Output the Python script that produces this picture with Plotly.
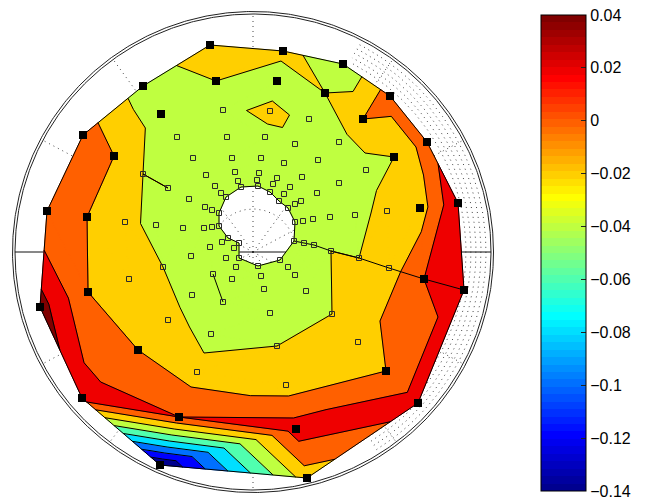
import math
import numpy as np
import plotly.graph_objects as go

# ---------------- data (polar plane, outer radius = 238 units) ----------------
# outer ring sensors (filled black squares)
black_x = [-43, 30, 90, 137, 174, 205, 211, 165, 54, -93, -171, -213, -206, -170, -110,
           -37, 24, 72, 110, 141, 167, 171, 133, 43, -74, -115, -165, -166, -139, -92]
black_y = [207, 201, 188, 156, 110, 49, -38, -151, -226, -213, -146, -55, 41, 117, 166,
           171, 171, 159, 133, 95, 44, -27, -119, -177, -165, -98, -40, 35, 96, 138]
black_v = [-0.01, -0.01, -0.04, 0.01, 0.01, 0.038, 0.03, 0.03, -0.01, -0.14, 0.03, 0.049, 0.0, 0.01, -0.03,
           -0.02, -0.04, -0.02, 0.0, -0.02, -0.01, 0.02, 0.0, 0.03, 0.02, 0.0, 0.0, 0.0, 0.0, -0.03]

# inner sensors (open squares)
int_x = [-30, 17, 56, -76, -26, 12, 42, 86, -60, -21, 8, 31, 65, -110, -47, -18, 6, 24, 49, 113,
         -85, -38, -15, 4, 20, 37, 86, -64, -32, 31, 64, 48, 42, -48, -41, 50, 60, 77, 102, 134,
         -128, -97, -70, -49, -41, -31, -19, -43, 51, 61, 78, 106, -27, -62, -90, -17, 35, 136, -40, 8,
         42, -124, -21, 11, 53, -61, -30, 17, 79, -85, -42, 24, 105, -56, 33]
int_y = [142, 141, 133, 115, 115, 115, 108, 110, 94, 94, 94, 89, 92, 78, 77, 80, 79, 74, 75, 82,
         64, 66, 71, 72, 68, 65, 69, 53, 59, 58, 59, 51, 48, 45, 42, 31, 33, 35, 37, 41,
         30, 27, 24, 24, 25, 10, 4, 5, 9, 7, 1, -6, -6, -4, -15, -15, -15, -16, -22, -24,
         -23, -27, -27, -37, -39, -43, -50, -61, -62, -68, -82, -94, -90, -120, -133]
int_v = [-0.03, -0.01, -0.03, -0.03, -0.03, -0.03, -0.03, -0.03, -0.03, -0.03,
         -0.03, -0.03, -0.03, -0.02, -0.03, -0.03, -0.03, -0.03, -0.03, -0.03,
         -0.02, -0.03, -0.03, -0.03, -0.03, -0.03, -0.03, -0.03, -0.03, -0.03,
         -0.03, -0.03, -0.03, -0.03, -0.03, -0.03, -0.03, -0.03, -0.03, -0.01,
         -0.01, -0.03, -0.03, -0.03, -0.03, -0.03, -0.03, -0.03, -0.03, -0.03,
         -0.02, -0.02, -0.03, -0.03, -0.02, -0.03, -0.03, -0.01, -0.03, -0.03,
         -0.03, -0.01, -0.03, -0.03, -0.03, -0.03, -0.03, -0.03, -0.02, -0.01,
         -0.03, -0.02, -0.01, -0.01, -0.01]

# sensors on the rim of the central opening (open squares)
hole_x = [-12, 5, 17, 26, 35, 42, 41, 27, 5, -14, -14, -25, -34, -34, -27]
hole_y = [65, 66, 60, 51, 44, 30, 11, -8, -14, -6, 9, 14, 26, 39, 55]
hole_v = [-0.03] * 15

# connection lines
cable_x = [41, 51, 61, 78, 106, 136, 171, 211]
cable_y = [11, 9, 7, 1, -6, -16, -27, -38]
link_x = [-40, -30]
link_y = [-22, -50]

levels = [-0.14, -0.12, -0.10, -0.08, -0.06, -0.04, -0.02, 0.0, 0.02, 0.04]
cbar_ticks = [0.04, 0.02, 0.0, -0.02, -0.04, -0.06, -0.08, -0.10, -0.12, -0.14]
cbar_labels = ['0.04', '0.02', '0', '\u22120.02', '\u22120.04', '\u22120.06', '\u22120.08',
               '\u22120.1', '\u22120.12', '\u22120.14']
CMIN, CMAX = -0.14, 0.04

# polar grid
R_OUT = 238
spoke_angles = [28, 54, 90, 126, 152, 208, 233, 270, 307, 332]
arc_radii = [213, 218, 223, 228, 233]

# page geometry (the page body adds an 8px margin)
PAGE_PAD = 8
FIG_W, FIG_H = 647 - PAGE_PAD, 499 - PAGE_PAD
CB_LEFT, CB_TOP, CB_LEN, CB_THICK = 541, 15, 476, 45


# ---------------- helpers ----------------
def jet(m=64):
    n = int(math.ceil(m / 4))
    u = [k / n for k in range(1, n + 1)] + [1.0] * (n - 1) + [k / n for k in range(n, 0, -1)]
    g0 = int(math.ceil(n / 2)) - (1 if m % 4 == 1 else 0)
    cols = [[0.0, 0.0, 0.0] for _ in range(m)]
    for j, val in enumerate(u):
        gi = g0 + j + 1
        for idx, ch in ((gi + n, 0), (gi, 1), (gi - n, 2)):
            if 1 <= idx <= m:
                cols[idx - 1][ch] = val
    return ['rgb(%d,%d,%d)' % tuple(int(round(c * 255)) for c in col) for col in cols]


JET = jet(64)


def level_color(v):
    idx = int(math.floor((v - CMIN) / (CMAX - CMIN) * 64 + 1e-9))
    return JET[max(0, min(63, idx))]


def delaunay(pts):
    n = len(pts)
    P = [(float(a), float(b)) for a, b in pts]
    S = 3e4
    P += [(-S, -S), (S, -S), (0.0, S)]

    def cc(t):
        (ax, ay), (bx, by), (cx, cy) = P[t[0]], P[t[1]], P[t[2]]
        d = 2.0 * (ax * (by - cy) + bx * (cy - ay) + cx * (ay - by))
        if d == 0:
            return (0.0, 0.0, -1.0)
        a2, b2, c2 = ax * ax + ay * ay, bx * bx + by * by, cx * cx + cy * cy
        ux = (a2 * (by - cy) + b2 * (cy - ay) + c2 * (ay - by)) / d
        uy = (a2 * (cx - bx) + b2 * (ax - cx) + c2 * (bx - ax)) / d
        return (ux, uy, (ax - ux) ** 2 + (ay - uy) ** 2)

    tris = {(n, n + 1, n + 2): cc((n, n + 1, n + 2))}
    for i in range(n):
        px, py = P[i]
        bad = [t for t, (ux, uy, r2) in tris.items() if (px - ux) ** 2 + (py - uy) ** 2 < r2]
        cnt = {}
        for t in bad:
            for e in ((t[0], t[1]), (t[1], t[2]), (t[2], t[0])):
                k = (min(e), max(e))
                cnt[k] = cnt.get(k, 0) + 1
        for t in bad:
            del tris[t]
        for k, c in cnt.items():
            if c == 1:
                t = (k[0], k[1], i)
                tris[t] = cc(t)
    return [t for t in tris if max(t) < n]


def inside(px, py, xs, ys):
    c = False
    j = len(xs) - 1
    for i in range(len(xs)):
        if (ys[i] > py) != (ys[j] > py):
            xc = (xs[j] - xs[i]) * (py - ys[i]) / (ys[j] - ys[i]) + xs[i]
            if px < xc:
                c = not c
        j = i
    return c


def clip(poly, lev, keep_above):
    out = []
    m = len(poly)
    for i in range(m):
        a, b = poly[i], poly[(i + 1) % m]
        ia = a[2] >= lev if keep_above else a[2] <= lev
        ib = b[2] >= lev if keep_above else b[2] <= lev
        if ia:
            out.append(a)
        if ia != ib:
            t = (lev - a[2]) / (b[2] - a[2])
            out.append((a[0] + t * (b[0] - a[0]), a[1] + t * (b[1] - a[1]), lev))
    return out


# ---------------- triangulated contour ----------------
X = list(map(float, black_x + int_x + hole_x))
Y = list(map(float, black_y + int_y + hole_y))
F = [v + 1e-7 for v in black_v + int_v + hole_v]

tris = delaunay(list(zip(X, Y)))
tris = [t for t in tris
        if not inside(sum(X[i] for i in t) / 3, sum(Y[i] for i in t) / 3, hole_x, hole_y)]

band_x = [[] for _ in levels]
band_y = [[] for _ in levels]
seg_x, seg_y = [], []
edge_count = {}
for t in tris:
    poly = [(X[i], Y[i], F[i]) for i in t]
    for k, lo in enumerate(levels):
        hi = levels[k + 1] if k + 1 < len(levels) else None
        p = clip(poly, lo, True)
        if len(p) >= 3 and hi is not None:
            p = clip(p, hi, False)
        if len(p) >= 3:
            band_x[k] += [q[0] for q in p] + [p[0][0], None]
            band_y[k] += [q[1] for q in p] + [p[0][1], None]
    for L in levels:
        pts = []
        for a, b in ((0, 1), (1, 2), (2, 0)):
            fa, fb = poly[a][2], poly[b][2]
            if (fa - L) * (fb - L) < 0:
                s = (L - fa) / (fb - fa)
                pts.append((poly[a][0] + s * (poly[b][0] - poly[a][0]),
                            poly[a][1] + s * (poly[b][1] - poly[a][1])))
        if len(pts) == 2:
            seg_x += [pts[0][0], pts[1][0], None]
            seg_y += [pts[0][1], pts[1][1], None]
    for a, b in ((t[0], t[1]), (t[1], t[2]), (t[2], t[0])):
        k = (min(a, b), max(a, b))
        edge_count[k] = edge_count.get(k, 0) + 1

bnd_x, bnd_y = [], []
for (a, b), c in edge_count.items():
    if c == 1:
        bnd_x += [X[a], X[b], None]
        bnd_y += [Y[a], Y[b], None]

# ---------------- figure ----------------
fig = go.Figure()
DOT = '1px,4px'

# polar frame: double outer circle
th = np.linspace(0, 2 * np.pi, 721)
for r in (R_OUT, R_OUT + 2.5):
    fig.add_trace(go.Scatter(x=r * np.cos(th), y=r * np.sin(th), mode='lines',
                             line=dict(color='#222222', width=1), hoverinfo='skip'))
# dotted spokes
sx, sy = [], []
for a in spoke_angles:
    ar = math.radians(a)
    sx += [0, R_OUT * math.cos(ar), None]
    sy += [0, R_OUT * math.sin(ar), None]
fig.add_trace(go.Scatter(x=sx, y=sy, mode='lines', line=dict(color='#444444', width=1, dash=DOT),
                         hoverinfo='skip'))
# dotted arcs
ax_, ay_ = [], []
ta = np.radians(np.linspace(-58, 63, 200))
for r in arc_radii:
    ax_ += list(r * np.cos(ta)) + [None]
    ay_ += list(r * np.sin(ta)) + [None]
tc = np.linspace(0, 2 * np.pi, 200)
ax_ += list(43 * np.cos(tc)) + [None]
ay_ += list(43 * np.sin(tc)) + [None]
fig.add_trace(go.Scatter(x=ax_, y=ay_, mode='lines', line=dict(color='#444444', width=1, dash=DOT),
                         hoverinfo='skip'))
# zero-degree axis
fig.add_trace(go.Scatter(x=[-R_OUT, R_OUT], y=[0, 0], mode='lines',
                         line=dict(color='#111111', width=1), hoverinfo='skip'))

# filled bands
for k, lo in enumerate(levels):
    if not band_x[k]:
        continue
    col = level_color(lo)
    fig.add_trace(go.Scatter(x=band_x[k], y=band_y[k], mode='lines', fill='toself',
                             fillcolor=col, line=dict(color=col, width=1), hoverinfo='skip'))

# contour lines and triangulation boundary
fig.add_trace(go.Scatter(x=seg_x, y=seg_y, mode='lines', line=dict(color='black', width=1),
                         hoverinfo='skip'))
fig.add_trace(go.Scatter(x=bnd_x, y=bnd_y, mode='lines', line=dict(color='black', width=1),
                         hoverinfo='skip'))
# connection lines
fig.add_trace(go.Scatter(x=cable_x, y=cable_y, mode='lines', line=dict(color='black', width=1),
                         hoverinfo='skip'))
fig.add_trace(go.Scatter(x=link_x, y=link_y, mode='lines', line=dict(color='black', width=1),
                         hoverinfo='skip'))

# sensors
fig.add_trace(go.Scatter(x=int_x + hole_x, y=int_y + hole_y, mode='markers',
                         marker=dict(symbol='square-open', size=5, color='#2a2a2a',
                                     line=dict(width=1, color='#2a2a2a')),
                         hoverinfo='skip'))
fig.add_trace(go.Scatter(x=black_x, y=black_y, mode='markers',
                         marker=dict(symbol='square', size=8, color='black'),
                         hoverinfo='skip'))

# colorbar
cscale = []
for k in range(64):
    cscale += [[k / 64, JET[k]], [(k + 1) / 64, JET[k]]]
fig.add_trace(go.Scatter(
    x=[0], y=[0], mode='markers', hoverinfo='skip',
    marker=dict(size=1, opacity=0, color=[-0.05], colorscale=cscale, cmin=CMIN, cmax=CMAX,
                showscale=True,
                colorbar=dict(x=(CB_LEFT - PAGE_PAD) / FIG_W, xanchor='left', xpad=0,
                              y=1 - (CB_TOP + CB_LEN / 2 - PAGE_PAD) / FIG_H, yanchor='middle',
                              ypad=0, len=CB_LEN, lenmode='pixels',
                              thickness=CB_THICK, thicknessmode='pixels',
                              outlinewidth=1, outlinecolor='black',
                              tickmode='array', tickvals=cbar_ticks, ticktext=cbar_labels,
                              ticklabeloverflow='allow',
                              ticks='inside', ticklen=5, tickwidth=1, tickcolor='#222222',
                              tickfont=dict(family='Liberation Sans, Arial, sans-serif',
                                            size=16, color='black')))))

# matching tick marks on the left edge of the colour bar
shapes = []
for v in cbar_ticks[1:-1]:
    py = CB_TOP + (CMAX - v) / (CMAX - CMIN) * CB_LEN - PAGE_PAD
    yp = 1 - py / FIG_H
    x0 = (CB_LEFT - PAGE_PAD) / FIG_W
    shapes.append(dict(type='line', xref='paper', yref='paper', x0=x0, x1=x0 + 5 / FIG_W,
                       y0=yp, y1=yp, line=dict(color='#222222', width=1)))

fig.update_layout(
    width=FIG_W, height=FIG_H,
    margin=dict(l=0, r=0, t=0, b=0, autoexpand=False),
    paper_bgcolor='white', plot_bgcolor='white', showlegend=False,
    xaxis=dict(range=[-253 + PAGE_PAD, 394], visible=False, showgrid=False, zeroline=False),
    yaxis=dict(range=[-247, 252 - PAGE_PAD], visible=False, showgrid=False, zeroline=False),
    shapes=shapes,
)
fig.write_html('out.html')
